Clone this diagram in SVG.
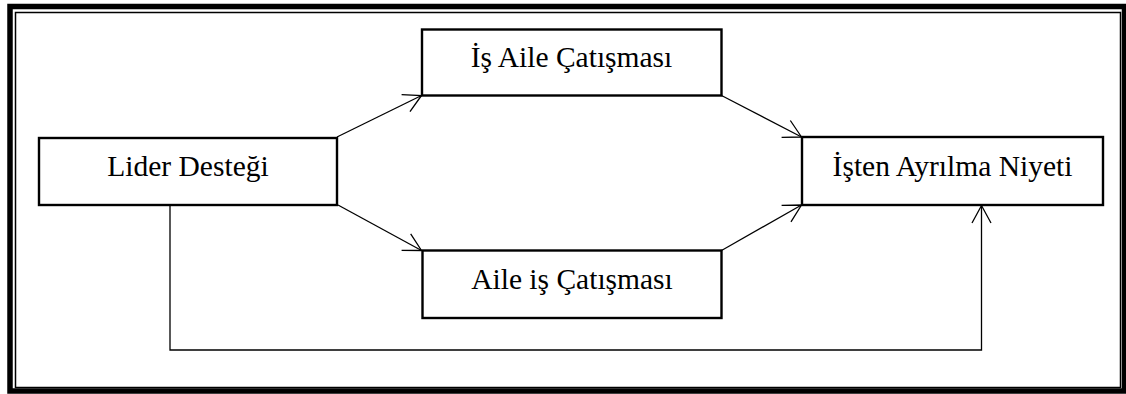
<svg xmlns="http://www.w3.org/2000/svg" width="1126" height="394" viewBox="0 0 1126 394">
  <defs>
    <style>
      .box { fill: #ffffff; stroke: #000000; stroke-width: 2.4; }
      .lbl { font-family: "Liberation Serif", "Times New Roman", serif; font-size: 29.5px; fill: #000000; text-anchor: middle; }
      .con { fill: none; stroke: #000000; stroke-width: 1.3; }
    </style>
    <marker id="arr" markerUnits="userSpaceOnUse" orient="auto" refX="0" refY="0" markerWidth="24" markerHeight="24" overflow="visible">
      <path d="M-17.5,-9.5 L0,0 L-17.5,9.5" fill="none" stroke="#000000" stroke-width="1.3"/>
    </marker>
  </defs>
  <rect x="0" y="0" width="1126" height="394" fill="#ffffff"/>
  <g id="frame">
    <rect x="10" y="6.5" width="1114.5" height="384.5" fill="none" stroke="#000000" stroke-width="5.5"/>
    <rect x="15.5" y="12.5" width="1105" height="375" fill="none" stroke="#000000" stroke-width="1.5"/>
  </g>
  <g id="connectors">
    <line class="con" x1="337" y1="137" x2="421.5" y2="95.5" marker-end="url(#arr)"/>
    <line class="con" x1="338" y1="205" x2="421.5" y2="250.5" marker-end="url(#arr)"/>
    <line class="con" x1="721.5" y1="95.5" x2="801.5" y2="137" marker-end="url(#arr)"/>
    <line class="con" x1="721.5" y1="250.5" x2="801.5" y2="205" marker-end="url(#arr)"/>
    <polyline class="con" points="170,205 170,350 981.5,350 981.5,205.5" marker-end="url(#arr)"/>
  </g>
  <g id="lider">
    <rect class="box" x="39" y="138" width="298" height="67"/>
    <text class="lbl" x="188" y="176" font-family="Liberation Serif, serif">Lider Desteği</text>
  </g>
  <g id="is-aile">
    <rect class="box" x="422" y="29.5" width="299.5" height="66"/>
    <text class="lbl" x="571.5" y="67" font-family="Liberation Serif, serif">İş Aile Çatışması</text>
  </g>
  <g id="aile-is">
    <rect class="box" x="422.5" y="250.5" width="299" height="67.5"/>
    <text class="lbl" x="572" y="288.5" font-family="Liberation Serif, serif">Aile iş Çatışması</text>
  </g>
  <g id="isten">
    <rect class="box" x="802" y="137" width="301" height="68"/>
    <text class="lbl" x="952.5" y="175.5" font-family="Liberation Serif, serif">İşten Ayrılma Niyeti</text>
  </g>
</svg>
